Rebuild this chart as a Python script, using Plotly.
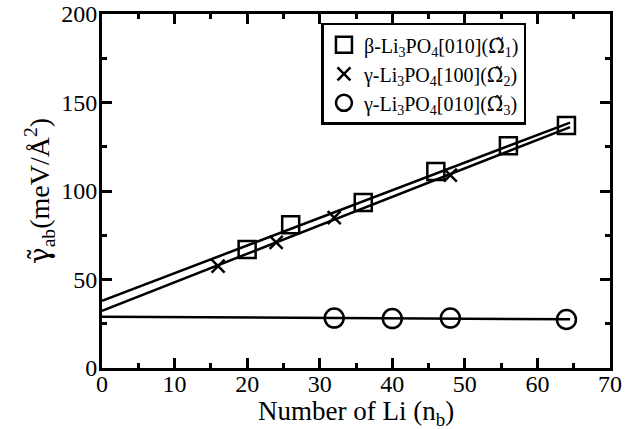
import numpy as np
import plotly.graph_objects as go

# Data
beta010_n = [20, 26, 36, 46, 56, 64]
beta010_g = [67, 81, 93.5, 111, 125.5, 137]
gamma100_n = [16, 24, 32, 48]
gamma100_g = [57.5, 71, 85, 109]
gamma010_n = [32, 40, 48, 64]
gamma010_g = [28.2, 27.9, 28.2, 27.4]
fit_range = [0, 64.5]

OM = '<span style="font-family:DejaVu Serif">Ω\u0303</span>'
names = [f"β-Li<sub>3</sub>PO<sub>4</sub>[010]({OM}<sub>1</sub>)",
         f"γ-Li<sub>3</sub>PO<sub>4</sub>[100]({OM}<sub>2</sub>)",
         f"γ-Li<sub>3</sub>PO<sub>4</sub>[010]({OM}<sub>3</sub>)"]
symbols = ["square-open", "x-thin-open", "circle-open"]
sizes = [17, 13, 19]

FONT = '"Liberation Serif", "Times New Roman", serif'
fig = go.Figure()

series = [(beta010_n, beta010_g), (gamma100_n, gamma100_g), (gamma010_n, gamma010_g)]
for (xs, ys) in series:
    k, b = np.polyfit(xs, ys, 1)
    xf = np.array(fit_range, dtype=float)
    fig.add_trace(go.Scatter(x=xf, y=k * xf + b, mode="lines",
                             line=dict(color="black", width=2.5),
                             showlegend=False, hoverinfo="skip"))

for (xs, ys), nm, sym, sz in zip(series, names, symbols, sizes):
    fig.add_trace(go.Scatter(x=xs, y=ys, mode="markers", name=nm,
                             marker=dict(symbol=sym, size=sz, color="black",
                                         line=dict(color="black", width=2.5))))

axis_common = dict(showline=True, linecolor="black", linewidth=3, mirror="ticks",
                   ticks="inside", ticklen=10, tickwidth=2.5, tickcolor="black",
                   showgrid=False, zeroline=False, automargin=False,
                   tickfont=dict(family=FONT, size=24, color="black"))

fig.update_xaxes(range=[0, 70], dtick=10, tick0=0, ticklabelstandoff=-8,
                 minor=dict(dtick=5, ticks="inside", ticklen=5, tickwidth=2.5, tickcolor="black"),
                 **axis_common)
fig.update_yaxes(range=[0, 200], dtick=50, tick0=0, ticklabelstandoff=-3,
                 minor=dict(dtick=25, ticks="inside", ticklen=5, tickwidth=2.5, tickcolor="black"),
                 title=dict(text='<span style="font-family:DejaVu Serif">γ\u0303</span><sub>ab</sub>(meV/Å<sup>2</sup>)',
                            font=dict(family=FONT, size=28, color="black"), standoff=4),
                 **axis_common)

fig.add_annotation(text="Number of Li (n<sub>b</sub>)", xref="paper", yref="paper",
                   x=0.5, y=(368 - 413) / 354, xanchor="center", yanchor="middle",
                   showarrow=False, font=dict(family=FONT, size=27, color="black"))

fig.update_layout(
    width=635, height=429,
    margin=dict(l=102, r=25, t=14, b=61, autoexpand=False),
    plot_bgcolor="white", paper_bgcolor="white",
    font=dict(family=FONT, color="black"),
    legend=dict(x=0.432, y=0.975, xanchor="left", yanchor="top",
                bordercolor="black", borderwidth=2.5, bgcolor="white",
                font=dict(family=FONT, size=20, color="black"),
                itemsizing="trace", tracegroupgap=0),
)

fig.write_html("out.html")
